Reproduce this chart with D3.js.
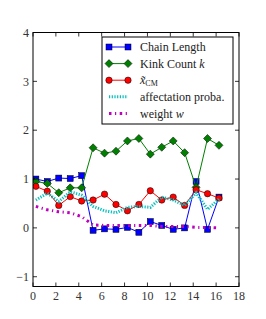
<!DOCTYPE html>
<html>
<head>
<meta charset="utf-8">
<script src="https://cdn.jsdelivr.net/npm/d3@7"></script>
<style>
    body { margin: 0; background: #fff; }
    svg { display: block; }
</style>
</head>
<body>
<div id="chart"></div>
<script>
// data
const xs = [0.25, 1.25, 2.25, 3.25, 4.25, 5.25, 6.25, 7.25, 8.25, 9.25, 10.25, 11.25, 12.25, 13.25, 14.25, 15.25, 16.25];
const chainLength = [1.0, 0.95, 1.02, 1.01, 1.07, -0.05, -0.02, -0.03, 0.01, -0.09, 0.13, 0.05, -0.03, 0.0, 0.95, -0.03, 0.63];
const kinkCount = [0.95, 0.91, 0.72, 0.82, 0.82, 1.64, 1.53, 1.57, 1.78, 1.83, 1.51, 1.65, 1.78, 1.54, 0.83, 1.83, 1.69];
const xCM = [0.85, 0.75, 0.46, 0.64, 0.55, 0.57, 0.69, 0.48, 0.35, 0.48, 0.76, 0.57, 0.63, 0.46, 0.78, 0.70, 0.61];
const affectation = [0.57, 0.71, 0.54, 0.74, 0.67, 0.44, 0.35, 0.31, 0.42, 0.44, 0.42, 0.63, 0.57, 0.46, 0.72, 0.38, 0.59];
const weight = [0.44, 0.37, 0.33, 0.31, 0.23, 0.06, 0.05, 0.05, 0.05, 0.05, 0.05, 0.03, 0.03, 0.03, 0.01, 0.01, 0.0];
const xTicks = [0, 2, 4, 6, 8, 10, 12, 14, 16, 18];
const yTicks = [-1, 0, 1, 2, 3, 4];

const W = 266, H = 319;
const margin = { left: 33, right: 27, top: 32.5, bottom: 32.5 };
const width = W - margin.left - margin.right;
const height = H - margin.top - margin.bottom;
const FONT = "'Liberation Serif', 'DejaVu Serif', serif";

const svg = d3.select('#chart').append('svg')
    .attr('width', W)
    .attr('height', H)
    .attr('font-family', FONT);
const g = svg.append('g')
    .attr('transform', 'translate(' + margin.left + ',' + margin.top + ')');

const x = d3.scaleLinear().domain([0, 18]).range([0, width]);
const y = d3.scaleLinear().domain([-1.2, 4]).range([height, 0]);

// clip so lines stay inside the frame
g.append('clipPath').attr('id', 'clip')
    .append('rect').attr('width', width).attr('height', height);

const series = [
    { values: chainLength, color: '#0000ff', width: 1, dash: null, marker: 'square' },
    { values: kinkCount, color: '#008000', width: 1, dash: null, marker: 'diamond' },
    { values: xCM, color: '#ff0000', width: 1, dash: null, marker: 'circle' },
    { values: affectation, color: '#00bfbf', width: 3, dash: '1.2,1.5', marker: null },
    { values: weight, color: '#bf00bf', width: 3, dash: '2.5,3.5,1.2,3.5', marker: null }
];

const line = d3.line()
    .x((d, i) => x(xs[i]))
    .y(d => y(d));

const plot = g.append('g').attr('clip-path', 'url(#clip)');

function drawMarker(sel, kind, color) {
    if (kind === 'square') {
        sel.append('rect')
            .attr('x', -3).attr('y', -3).attr('width', 6).attr('height', 6)
            .attr('fill', color).attr('stroke', '#000').attr('stroke-width', 0.5);
    } else if (kind === 'diamond') {
        sel.append('path')
            .attr('d', 'M0,-4L4,0L0,4L-4,0Z')
            .attr('fill', color).attr('stroke', '#000').attr('stroke-width', 0.5);
    } else if (kind === 'circle') {
        sel.append('circle')
            .attr('r', 3.2)
            .attr('fill', color).attr('stroke', '#000').attr('stroke-width', 0.5);
    }
}

series.forEach(s => {
    plot.append('path')
        .attr('d', line(s.values))
        .attr('fill', 'none')
        .attr('stroke', s.color)
        .attr('stroke-width', s.width)
        .attr('stroke-dasharray', s.dash);
    if (s.marker) {
        s.values.forEach((v, i) => {
            const m = plot.append('g')
                .attr('transform', 'translate(' + x(xs[i]) + ',' + y(v) + ')');
            drawMarker(m, s.marker, s.color);
        });
    }
});

// frame
g.append('rect')
    .attr('width', width).attr('height', height)
    .attr('fill', 'none').attr('stroke', '#000').attr('stroke-width', 1);

// ticks pointing inward on all four sides
xTicks.forEach(t => {
    g.append('line').attr('x1', x(t)).attr('x2', x(t)).attr('y1', height).attr('y2', height - 4)
        .attr('stroke', '#000').attr('stroke-width', 0.8);
    g.append('line').attr('x1', x(t)).attr('x2', x(t)).attr('y1', 0).attr('y2', 4)
        .attr('stroke', '#000').attr('stroke-width', 0.8);
    g.append('text')
        .attr('x', x(t)).attr('y', height + 13)
        .attr('text-anchor', 'middle')
        .attr('font-size', 12)
        .attr('fill', '#333')
        .text(t);
});
yTicks.forEach(t => {
    g.append('line').attr('x1', 0).attr('x2', 4).attr('y1', y(t)).attr('y2', y(t))
        .attr('stroke', '#000').attr('stroke-width', 0.8);
    g.append('line').attr('x1', width).attr('x2', width - 4).attr('y1', y(t)).attr('y2', y(t))
        .attr('stroke', '#000').attr('stroke-width', 0.8);
    g.append('text')
        .attr('x', -4).attr('y', y(t)).attr('dy', '0.35em')
        .attr('text-anchor', 'end')
        .attr('font-size', 12)
        .attr('fill', '#333')
        .text(t < 0 ? '\u2212' + Math.abs(t) : t);
});

// legend
const legend = svg.append('g').attr('transform', 'translate(102,37)');
legend.append('rect')
    .attr('width', 131).attr('height', 87)
    .attr('fill', '#fff').attr('stroke', '#000').attr('stroke-width', 1);

const labels = [
    [{ t: 'Chain Length' }],
    [{ t: 'Kink Count ' }, { t: 'k', italic: true }],
    [{ t: 'x\u0303', italic: true }, { t: 'CM', sub: true }],
    [{ t: 'affectation proba.' }],
    [{ t: 'weight ' }, { t: 'w', italic: true }]
];

series.forEach((s, i) => {
    const ly = 10 + i * 16.6;
    legend.append('line')
        .attr('x1', 7).attr('x2', 26).attr('y1', ly).attr('y2', ly)
        .attr('stroke', s.color).attr('stroke-width', s.width)
        .attr('stroke-dasharray', s.dash);
    if (s.marker) {
        [7, 26].forEach(mx => {
            drawMarker(legend.append('g').attr('transform', 'translate(' + mx + ',' + ly + ')'), s.marker, s.color);
        });
    }
    const txt = legend.append('text')
        .attr('x', 38).attr('y', ly).attr('dy', '0.35em')
        .attr('font-size', 12)
        .attr('fill', '#222');
    labels[i].forEach(p => {
        const sp = txt.append('tspan').text(p.t);
        if (p.italic) sp.attr('font-style', 'italic');
        if (p.sub) sp.attr('font-size', 8).attr('dy', '2');
    });
});
</script>
</body>
</html>
